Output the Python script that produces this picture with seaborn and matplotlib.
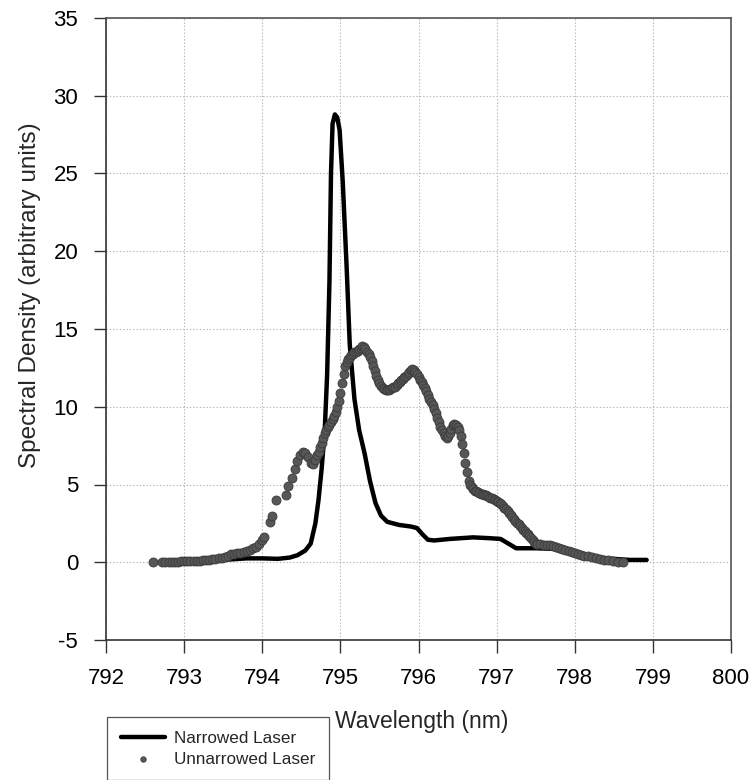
import matplotlib
matplotlib.use("Agg")
import matplotlib.pyplot as plt
import seaborn as sns
import pandas as pd

# ---- data -------------------------------------------------------------
narrowed_nm = [792.90, 793.20, 793.50, 793.80, 794.00, 794.20, 794.35, 794.45,
               794.55, 794.62, 794.68, 794.72, 794.76, 794.80, 794.83, 794.86,
               794.88, 794.90, 794.93, 794.96, 794.99, 795.03, 795.08, 795.12,
               795.18, 795.24, 795.31, 795.38, 795.45, 795.52, 795.60, 795.75,
               795.90, 795.98, 796.05, 796.12, 796.20, 796.40, 796.70, 796.90,
               797.05, 797.15, 797.25, 797.50, 797.80, 798.10, 798.40, 798.70,
               798.92]
narrowed_val = [0.02, 0.05, 0.15, 0.25, 0.25, 0.22, 0.30, 0.45,
                0.75, 1.2, 2.5, 4.0, 6.0, 8.5, 12.0, 18.0,
                25.0, 28.2, 28.8, 28.6, 27.8, 24.5, 19.0, 14.0,
                10.5, 8.5, 7.0, 5.2, 3.8, 3.0, 2.6, 2.4,
                2.3, 2.2, 1.8, 1.45, 1.4, 1.5, 1.6, 1.55,
                1.5, 1.2, 0.9, 0.9, 0.85, 0.5, 0.25, 0.15,
                0.15]

unnarrowed_nm = [
    792.60, 792.72, 792.76, 792.80, 792.84, 792.88, 792.92, 792.96,
    793.00, 793.04, 793.08, 793.12, 793.16, 793.20, 793.24, 793.28,
    793.32, 793.36, 793.40, 793.44, 793.48, 793.52, 793.56, 793.60,
    793.64, 793.68, 793.72, 793.76, 793.80, 793.84, 793.88, 793.92,
    793.96, 794.00, 794.02, 794.10, 794.13, 794.18, 794.30, 794.33,
    794.38, 794.42, 794.44, 794.48, 794.52, 794.55, 794.58, 794.62,
    794.65, 794.68,
    794.70, 794.72, 794.74, 794.76, 794.78, 794.80, 794.82, 794.84, 794.86, 794.88,
    794.90, 794.92, 794.94, 794.96, 794.98, 795.00, 795.02, 795.04, 795.06, 795.08,
    795.10, 795.12, 795.14, 795.16, 795.18, 795.20, 795.22, 795.24, 795.26, 795.28,
    795.30, 795.32, 795.34, 795.36, 795.38, 795.40, 795.42, 795.44, 795.46, 795.48,
    795.50, 795.52, 795.54, 795.56, 795.58, 795.60, 795.62, 795.64, 795.66, 795.68,
    795.70, 795.72, 795.74, 795.76, 795.78, 795.80, 795.82, 795.84, 795.86, 795.88,
    795.90, 795.92, 795.94, 795.96, 795.98, 796.00, 796.02, 796.04, 796.06, 796.08,
    796.10, 796.12, 796.14, 796.16, 796.18, 796.20, 796.22, 796.24, 796.26, 796.28,
    796.30, 796.32, 796.34, 796.36, 796.38, 796.40, 796.42, 796.44, 796.46, 796.48,
    796.50, 796.52, 796.54, 796.56, 796.58, 796.60, 796.62, 796.64, 796.66, 796.68,
    796.70, 796.72, 796.74, 796.76, 796.78, 796.80, 796.82, 796.84, 796.86, 796.88,
    796.90, 796.92, 796.94, 796.96, 796.98, 797.00, 797.02, 797.04, 797.06, 797.08,
    797.10, 797.12, 797.14, 797.16, 797.18, 797.20, 797.22, 797.24, 797.26, 797.28,
    797.30, 797.32, 797.34, 797.36, 797.38, 797.40, 797.42, 797.44, 797.46, 797.48,
    797.50, 797.52,
    797.56, 797.60, 797.64, 797.68, 797.72, 797.76, 797.80, 797.84,
    797.88, 797.92, 797.96, 798.00, 798.04, 798.08, 798.12, 798.17,
    798.22, 798.27, 798.32, 798.37, 798.43, 798.49, 798.55, 798.62]
unnarrowed_val = [
    0.02, 0.03, 0.02, 0.03, 0.03, 0.04, 0.04, 0.05,
    0.06, 0.07, 0.08, 0.09, 0.10, 0.11, 0.12, 0.14,
    0.16, 0.18, 0.22, 0.26, 0.30, 0.35, 0.42, 0.50,
    0.55, 0.62, 0.60, 0.65, 0.72, 0.80, 0.90, 0.95,
    1.15, 1.40, 1.60, 2.60, 3.00, 4.00, 4.30, 4.90,
    5.40, 6.00, 6.50, 6.90, 7.10, 7.00, 6.80, 6.40,
    6.30, 6.60,
    6.9, 7.1, 7.4, 7.7, 8.0, 8.3, 8.5, 8.7, 8.85, 9.0,
    9.2, 9.4, 9.65, 10.0, 10.4, 10.9, 11.5, 12.1, 12.6, 12.9,
    13.1, 13.2, 13.3, 13.4, 13.5, 13.55, 13.6, 13.7, 13.8, 13.9,
    13.85, 13.7, 13.55, 13.4, 13.2, 12.95, 12.65, 12.3, 12.0, 11.75,
    11.5, 11.35, 11.2, 11.15, 11.1, 11.1, 11.1, 11.15, 11.2, 11.25,
    11.3, 11.4, 11.5, 11.6, 11.7, 11.8, 11.9, 12.0, 12.1, 12.25,
    12.35, 12.4, 12.35, 12.25, 12.1, 11.9, 11.75, 11.6, 11.4, 11.2,
    11.0, 10.75, 10.5, 10.3, 10.1, 9.85, 9.6, 9.3, 9.0, 8.7,
    8.5, 8.3, 8.1, 8.0, 8.1, 8.3, 8.55, 8.8, 8.9, 8.85,
    8.7, 8.5, 8.1, 7.6, 7.0, 6.4, 5.8, 5.2, 5.0, 4.85,
    4.7, 4.6, 4.55, 4.5, 4.45, 4.42, 4.4, 4.35, 4.3, 4.25,
    4.2, 4.15, 4.1, 4.05, 4.0, 3.95, 3.9, 3.82, 3.75, 3.62,
    3.5, 3.4, 3.3, 3.18, 3.05, 2.92, 2.8, 2.68, 2.55, 2.45,
    2.35, 2.22, 2.1, 2.0, 1.9, 1.8, 1.7, 1.58, 1.45, 1.32,
    1.2, 1.17,
    1.15, 1.12, 1.10, 1.08, 1.02, 0.97, 0.92, 0.85,
    0.78, 0.70, 0.63, 0.58, 0.52, 0.48, 0.43, 0.38,
    0.32, 0.26, 0.21, 0.17, 0.12, 0.08, 0.04, 0.02]

x_ticks = [792, 793, 794, 795, 796, 797, 798, 799, 800]
y_ticks = [-5, 0, 5, 10, 15, 20, 25, 30, 35]

# ---- style ------------------------------------------------------------
sns.set_theme(style="white")
plt.rcParams["font.family"] = ["Liberation Sans", "DejaVu Sans"]

fig = plt.figure(figsize=(7.56, 7.80), dpi=100)
ax = fig.add_axes([106 / 756, 1 - 640 / 780, 625 / 756, 622 / 780])

df_n = pd.DataFrame({"nm": narrowed_nm, "val": narrowed_val})
df_u = pd.DataFrame({"nm": unnarrowed_nm, "val": unnarrowed_val})

sns.lineplot(data=df_n, x="nm", y="val", ax=ax, color="black", linewidth=3.2,
             sort=False, estimator=None, label="Narrowed Laser", zorder=3)
sns.scatterplot(data=df_u, x="nm", y="val", ax=ax, color="#575757", s=42,
                edgecolor="#3a3a3a", linewidth=0.6, label="Unnarrowed Laser",
                zorder=4)

ax.set_xlim(792, 800)
ax.set_ylim(-5, 35)
ax.set_xticks(x_ticks)
ax.set_yticks(y_ticks)
ax.set_xticklabels([str(v) for v in x_ticks])
ax.set_yticklabels([str(v) for v in y_ticks])

ax.grid(True, color="#b5b5b5", linestyle=(0, (1.2, 1.8)), linewidth=0.8)
ax.set_axisbelow(True)

ax.tick_params(axis="both", which="major", bottom=True, left=True,
               direction="out", length=9, width=1.0, pad=11,
               labelsize=16, color="#333333", labelcolor="black")

for side in ["left", "bottom"]:
    ax.spines[side].set_color("#333333")
    ax.spines[side].set_linewidth(1.2)
for side in ["top", "right"]:
    ax.spines[side].set_color("#555555")
    ax.spines[side].set_linewidth(1.2)

ax.set_xlabel("Wavelength (nm)", fontsize=16.5)
ax.set_ylabel("Spectral Density (arbitrary units)", fontsize=17.5)
ax.xaxis.set_label_coords(0.505, -0.113)
ax.yaxis.set_label_coords(-0.104, 0.555)

ax.get_legend().remove()
handles, labels = ax.get_legend_handles_labels()
leg = fig.legend(handles, labels, loc="upper left",
                 bbox_to_anchor=(107 / 756, 1 - 717 / 780),
                 bbox_transform=fig.transFigure, borderaxespad=0,
                 fontsize=12.3, frameon=True, fancybox=False,
                 edgecolor="#555555", framealpha=1, handlelength=2.6,
                 handletextpad=0.5, borderpad=0.8, labelspacing=0.35,
                 markerscale=0.6)
leg.get_frame().set_linewidth(0.9)

fig.savefig("out.png", dpi=100)
